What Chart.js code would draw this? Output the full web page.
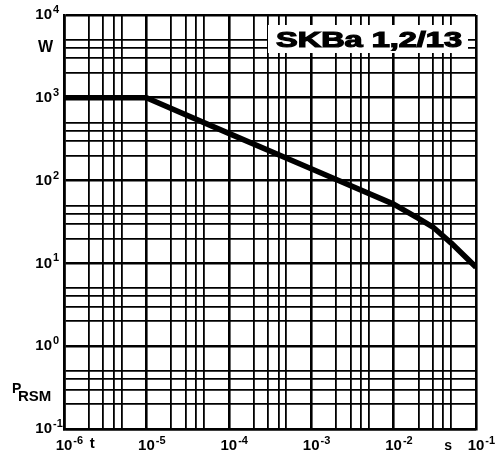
<!DOCTYPE html>
<html><head><meta charset="utf-8">
<script src="https://cdn.jsdelivr.net/npm/chart.js@4"></script>
<style>html,body{margin:0;padding:0;background:#fff}#wrap{width:500px;height:451px;position:relative}</style>
</head><body><div id="wrap"><canvas id="c"></canvas></div>
<script>
// ---- data ----
const timeSeconds = [1e-6, 1e-5, 1e-4, 1e-3, 1e-2, 2e-2, 3e-2, 5e-2, 1e-1];
const powerWatts  = [1000, 1000, 372, 139, 52, 35, 27.5, 17.6, 9];

const xExponents = [-6, -5, -4, -3, -2, -1];
const yExponents = [-1, 0, 1, 2, 3, 4];
const tickBase = '10';
const gridMultipliers = [1, 2, 3, 4, 5];

const titleText = 'SKBa 1,2/13';
const yUnit = 'W';
const xUnit = 's';
const xName = 't';
const yName = 'P';
const yNameSub = 'RSM';

function gridValues(exps) {
  const v = [];
  exps.forEach((e, i) => {
    if (i === exps.length - 1) { v.push(Math.pow(10, e)); return; }
    gridMultipliers.forEach(m => v.push(m * Math.pow(10, e)));
  });
  return v;
}
function isMajor(v) { const l = Math.log10(v); return Math.abs(l - Math.round(l)) < 1e-6; }

const FONT = "'Liberation Sans', Arial, 'DejaVu Sans', sans-serif";
const TICK_FONT = 'bold 15px ' + FONT;
const SUP_FONT = 'bold 11px ' + FONT;

const overlay = {
  id: 'overlay',
  afterDraw(chart) {
    const ctx = chart.ctx, a = chart.chartArea;
    const xs = chart.scales.x, ys = chart.scales.y;
    ctx.save();
    ctx.fillStyle = '#000';
    // exponents of the tick labels
    ctx.textBaseline = 'middle';
    ctx.textAlign = 'left';
    ctx.font = TICK_FONT;
    const bw = ctx.measureText(tickBase).width;
    ctx.font = SUP_FONT;
    yExponents.forEach(e => {
      const py = ys.getPixelForValue(Math.pow(10, e));
      ctx.fillText(String(e), 53, py - 5);
    });
    xExponents.forEach(e => {
      const px = xs.getPixelForValue(Math.pow(10, e));
      ctx.fillText(String(e), px + bw / 2 + 1, xs.top + 12);
    });
    // title box
    const bx = a.right - 208, by = a.top + 10, bwid = 200, bh = 28;
    ctx.fillStyle = '#fff';
    ctx.fillRect(bx, by, bwid, bh);
    ctx.fillStyle = '#000';
    ctx.strokeStyle = '#000';
    ctx.lineWidth = 1.2;
    ctx.font = 'bold 22px ' + FONT;
    ctx.textBaseline = 'alphabetic';
    ctx.textAlign = 'left';
    const w = ctx.measureText(titleText).width;
    ctx.save();
    ctx.translate(bx + 8, by + 22);
    ctx.scale(186 / w, 1);
    ctx.fillText(titleText, 0, 0);
    ctx.strokeText(titleText, 0, 0);
    ctx.restore();
    // units / names
    ctx.textBaseline = 'middle';
    ctx.textAlign = 'right';
    ctx.font = 'bold 16px ' + FONT;
    ctx.fillText(yUnit, 53, ys.getPixelForValue(4000));
    ctx.textAlign = 'left';
    ctx.font = 'bold 14px ' + FONT;
    ctx.fillText(yName, 12, 389);
    ctx.font = 'bold 15px ' + FONT;
    ctx.fillText(yNameSub, 18, 397);
    ctx.textAlign = 'center';
    ctx.font = 'bold 15px ' + FONT;
    ctx.fillText(xName, xs.getPixelForValue(2.2e-6), 444);
    ctx.font = 'bold 14px ' + FONT;
    ctx.fillText(xUnit, xs.getPixelForValue(4.6e-2), 446);
    ctx.restore();
  }
};

const gridWidth = (c) => (c.tick && isMajor(c.tick.value)) ? 2.6 : 1.8;

new Chart(document.getElementById('c'), {
  type: 'scatter',
  data: {
    datasets: [{
      data: timeSeconds.map((t, i) => ({ x: t, y: powerWatts[i] })),
      showLine: true,
      borderColor: '#000',
      borderWidth: 5.5,
      pointRadius: 0,
      tension: 0,
      borderCapStyle: 'butt',
      borderJoinStyle: 'round'
    }]
  },
  options: {
    responsive: true,
    maintainAspectRatio: false,
    animation: false,
    layout: { padding: { top: 15, right: 24, left: 0, bottom: 0 } },
    plugins: { legend: { display: false }, tooltip: { enabled: false } },
    scales: {
      x: {
        type: 'logarithmic',
        min: 1e-6, max: 1e-1,
        afterBuildTicks(s) { s.ticks = gridValues(xExponents).map(v => ({ value: v })); },
        afterFit(s) { s.height = 22; s.paddingLeft = 0; s.paddingRight = 0; },
        ticks: {
          autoSkip: false, maxRotation: 0, padding: 8, color: '#000',
          font: { family: FONT, size: 15, weight: 'bold' },
          callback: (v) => isMajor(v) ? tickBase : ''
        },
        grid: { color: '#000', drawTicks: false, lineWidth: gridWidth },
        border: { display: true, color: '#000', width: 2.6 }
      },
      y: {
        type: 'logarithmic',
        min: 1e-1, max: 1e4,
        afterBuildTicks(s) { s.ticks = gridValues(yExponents).map(v => ({ value: v })); },
        afterFit(s) { s.width = 64; s.paddingTop = 0; s.paddingBottom = 0; },
        ticks: {
          autoSkip: false, padding: 12, color: '#000',
          font: { family: FONT, size: 15, weight: 'bold' },
          callback: (v) => isMajor(v) ? tickBase : ''
        },
        grid: { color: '#000', drawTicks: false, lineWidth: gridWidth },
        border: { display: true, color: '#000', width: 2.6 }
      }
    }
  },
  plugins: [overlay]
});
</script></body></html>
